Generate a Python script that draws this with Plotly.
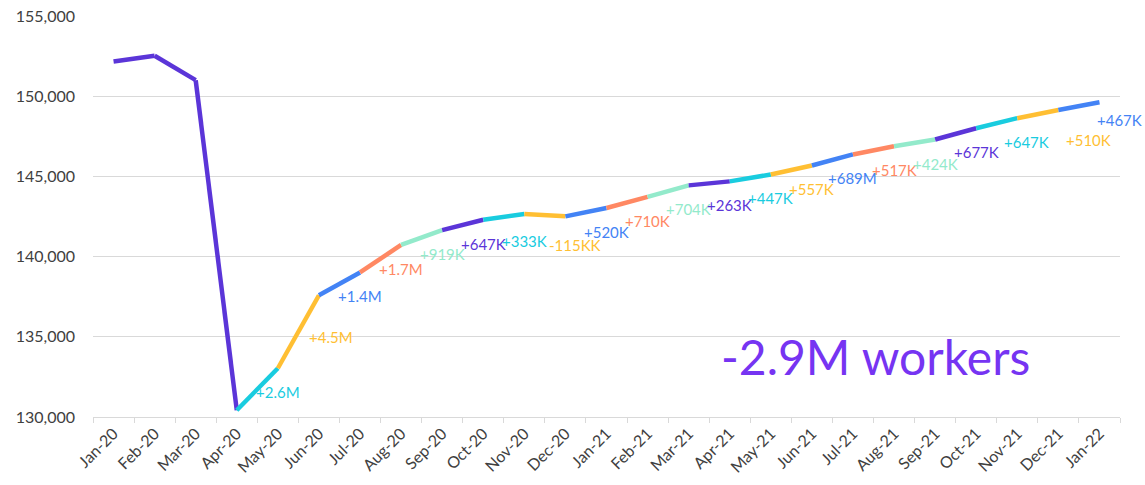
import plotly.graph_objects as go

months = ["Jan-20", "Feb-20", "Mar-20", "Apr-20", "May-20", "Jun-20", "Jul-20", "Aug-20",
          "Sep-20", "Oct-20", "Nov-20", "Dec-20", "Jan-21", "Feb-21", "Mar-21", "Apr-21",
          "May-21", "Jun-21", "Jul-21", "Aug-21", "Sep-21", "Oct-21", "Nov-21", "Dec-21", "Jan-22"]

employment = [152160, 152520, 151000, 130420, 133040, 137590, 139010, 140730,
              141650, 142300, 142650, 142510, 143030, 143720, 144440, 144690,
              145120, 145680, 146370, 146880, 147300, 148000, 148630, 149140, 149620]

change_labels = ["", "", "", "", "+2.6M", "+4.5M", "+1.4M", "+1.7M",
                 "+919K", "+647K", "+333K", "-115KK", "+520K", "+710K", "+704K", "+263K",
                 "+447K", "+557K", "+689M", "+517K", "+424K", "+677K", "+647K", "+510K", "+467K"]

headline = "-2.9M workers"

PURPLE = "#5B35D8"
CYAN = "#19CCDF"
YELLOW = "#FFBF33"
BLUE = "#4383F5"
CORAL = "#FF8863"
MINT = "#93EACB"
cycle = [PURPLE, CYAN, YELLOW, BLUE, CORAL, MINT]

# colour of the segment ending at month i
seg_colors = [None, PURPLE, PURPLE, PURPLE] + [cycle[(i - 3) % 6] for i in range(4, len(months))]

FONT = "Lato"

fig = go.Figure()
for i in range(1, len(months)):
    fig.add_trace(go.Scatter(
        x=[months[i - 1], months[i]], y=[employment[i - 1], employment[i]],
        mode="lines", line=dict(color=seg_colors[i], width=4.5),
        showlegend=False, hoverinfo="skip"))

# label offsets (pixels) relative to each point
xshift = {5: 12, 11: 10, 22: 9, 23: 30, 24: 20}
yshift = {5: -42, 10: -27, 11: -29, 23: -30, 24: -18}
for i, lab in enumerate(change_labels):
    if not lab:
        continue
    fig.add_annotation(x=months[i], y=employment[i], text=lab, showarrow=False,
                       xshift=xshift.get(i, 0), yshift=yshift.get(i, -24),
                       font=dict(family=FONT, size=15, color=seg_colors[i]))

fig.add_annotation(x=0.762, y=0.152, xref="paper", yref="paper", text=headline,
                   xanchor="center", yanchor="middle",
                   showarrow=False, font=dict(family=FONT, size=48, color="#7634F2"))

fig.update_layout(
    width=1145, height=485,
    margin=dict(l=93, r=25, t=16, b=68, autoexpand=False),
    paper_bgcolor="white", plot_bgcolor="white",
    font=dict(family=FONT, size=16, color="#404040"),
)
fig.update_xaxes(type="category", categoryorder="array", categoryarray=months,
                 range=[-0.5, len(months) - 0.5], tickangle=-45, tickson="boundaries",
                 ticks="outside", ticklen=5, tickcolor="#D9D9D9", showline=True,
                 linecolor="#D9D9D9", linewidth=1, showgrid=False,
                 tickfont=dict(family=FONT, size=16, color="#404040"))
fig.update_yaxes(range=[130000, 155000], dtick=5000, tickformat=",d", showgrid=True,
                 gridcolor="#D9D9D9", gridwidth=1, zeroline=False, ticks="",
                 ticklabelstandoff=17,
                 tickfont=dict(family=FONT, size=16, color="#404040"))

fig.write_html("out.html", config={"displayModeBar": False},
               post_script="document.body.style.margin='0';")
